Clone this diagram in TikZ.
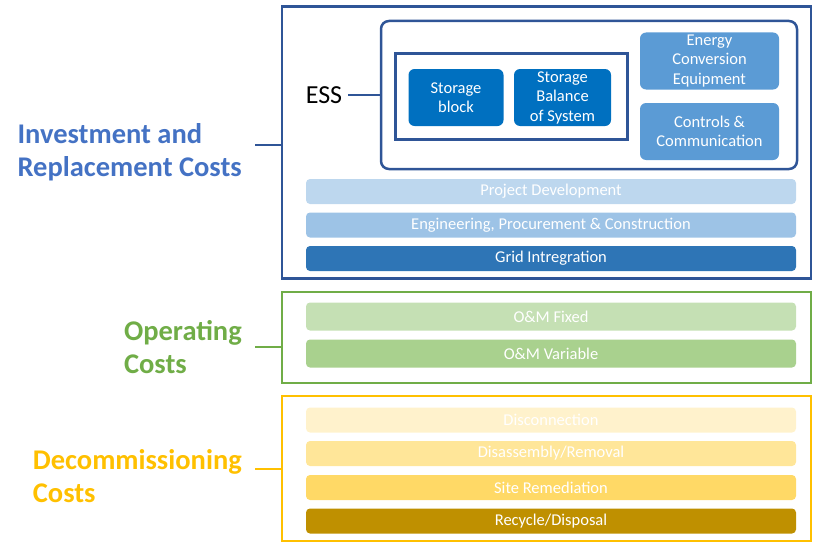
\documentclass[tikz,border=0pt]{standalone}
\usepackage{fontspec}
\setmainfont{Carlito}
\usepackage{xcolor}
\usepackage{tikz}
\usetikzlibrary{positioning, calc}

\definecolor{invblue}{HTML}{4472C4}
\definecolor{navyline}{HTML}{2F5597}
\definecolor{opgreen}{HTML}{70AD47}
\definecolor{decgold}{HTML}{FFC000}
\definecolor{storeblue}{HTML}{0070C0}
\definecolor{convblue}{HTML}{5B9BD5}
\definecolor{pdblue}{HTML}{BDD7EE}
\definecolor{epcblue}{HTML}{9DC3E6}
\definecolor{gridblue}{HTML}{2E75B6}
\definecolor{omfix}{HTML}{C5E0B4}
\definecolor{omvar}{HTML}{A9D18E}
\definecolor{discon}{HTML}{FFF2CC}
\definecolor{disasm}{HTML}{FFE699}
\definecolor{siterem}{HTML}{FFD966}
\definecolor{recyc}{HTML}{BF9000}

\begin{document}
\begin{tikzpicture}[
    x=1pt, y=-1pt,
    % Cost category boxes and their labels
    catbox/.style={rectangle, line width=2.5pt, minimum width=529pt, inner sep=0pt},
    catlabel/.style={anchor=east, align=left, inner xsep=13pt, inner ysep=0pt, font=\fontsize{28.5}{33}\selectfont\bfseries},
    catline/.style={line width=2.5pt},
    % Blocks inside the ESS box
    essblock/.style={rectangle, rounded corners=6pt, fill=storeblue, text=white, align=center, inner sep=0pt, font=\fontsize{16.5}{19.5}\selectfont},
    convblock/.style={essblock, fill=convblue, minimum width=139pt, minimum height=57pt},
    % Horizontal cost bars
    costbar/.style={rectangle, rounded corners=4pt, minimum width=490pt, minimum height=25pt, inner sep=0pt, text=white, font=\fontsize{16.5}{19}\selectfont}
]
\useasboundingbox (0,0) rectangle (813,543);

% -----------------------------------------------------------
% Investment and replacement costs
% -----------------------------------------------------------
\node[catbox, draw=navyline, minimum height=272pt] (invbox) at (546.5,142.5) {};
\node[catlabel, text=invblue] (invlabel) at (255,152) {Investment and\\Replacement Costs};

\node[rectangle, rounded corners=8pt, draw=navyline, line width=2.5pt, minimum width=416pt, minimum height=148pt, inner sep=0pt] (essbox) at (589,95) {};
\node[rectangle, draw=navyline, line width=3pt, minimum width=232pt, minimum height=85pt, inner sep=0pt] (storebox) at (511.5,96.5) {};
\node[font=\fontsize{26}{30}\selectfont, inner sep=6pt] (esslabel) at (324,95) {ESS};

\node[essblock, minimum width=95pt, minimum height=57pt] (block) at (456,97.5) {Storage\\block};
\node[essblock, minimum width=97pt, minimum height=57pt] (bos) at (562.5,97.5) {Storage\\Balance\\of System};
\node[convblock] (conv) at (709.5,61) {Energy\\Conversion\\Equipment};
\node[convblock] (ctrl) at (709.5,131.5) {Controls \&\\Communication};

\node[costbar, fill=pdblue] (projdev) at (551,191.5) {Project Development};
\node[costbar, fill=epcblue] (epc) at (551,225) {Engineering, Procurement \& Construction};
\node[costbar, fill=gridblue] (grid) at (551,258.5) {Grid Intregration};

% -----------------------------------------------------------
% Operating costs
% -----------------------------------------------------------
\node[catbox, draw=opgreen, minimum height=91pt] (opbox) at (546.5,337.5) {};
\node[catlabel, text=opgreen] (oplabel) at (255,347) {Operating\\Costs};

\node[costbar, fill=omfix, minimum height=28pt] (omfixed) at (551,316.5) {O\&M Fixed};
\node[costbar, fill=omvar, minimum height=28pt] (omvariable) at (551,353.5) {O\&M Variable};

% -----------------------------------------------------------
% Decommissioning costs
% -----------------------------------------------------------
\node[catbox, draw=decgold, minimum height=145pt] (decbox) at (546.5,468.5) {};
\node[catlabel, text=decgold] (declabel) at (255,476) {Decommissioning\\Costs};

\node[costbar, fill=discon] (disconnect) at (551,420) {Disconnection};
\node[costbar, fill=disasm] (disassembly) at (551,453.5) {Disassembly/Removal};
\node[costbar, fill=siterem] (remediation) at (551,487.5) {Site Remediation};
\node[costbar, fill=recyc] (recycle) at (551,521) {Recycle/Disposal};

% -----------------------------------------------------------
% Connectors
% -----------------------------------------------------------
\coordinate (invtap) at (255,145);
\coordinate (optap) at (255,347);
\coordinate (dectap) at (255,469);
\draw[catline, draw=navyline] (invtap) -- (invtap -| invbox.west);
\draw[catline, draw=opgreen] (optap) -- (optap -| opbox.west);
\draw[catline, draw=decgold] (dectap) -- (dectap -| decbox.west);
\draw[catline, draw=navyline] (esslabel.east) -- (esslabel.east -| essbox.west);

\end{tikzpicture}
\end{document}
